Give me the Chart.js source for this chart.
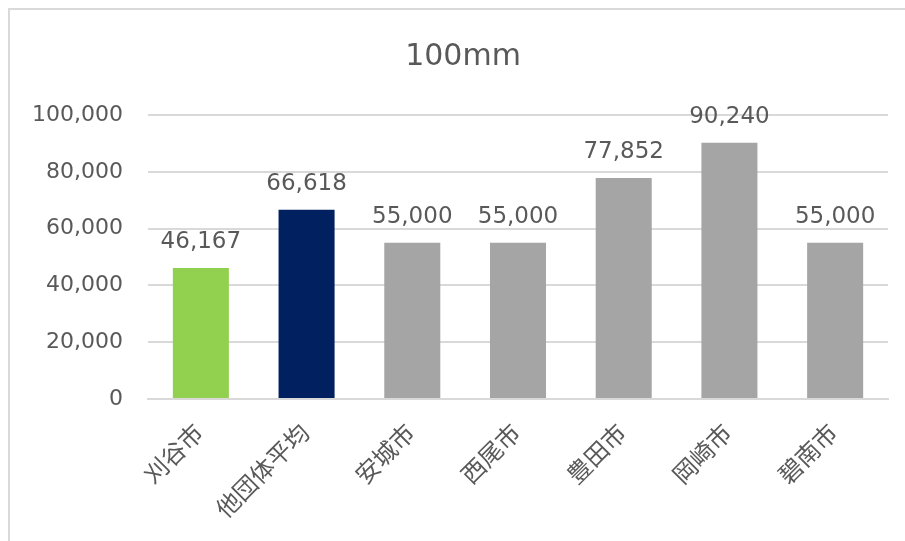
<!DOCTYPE html>
<html>
<head>
<meta charset="utf-8">
<script src="https://cdn.jsdelivr.net/npm/chart.js@4/dist/chart.umd.min.js"></script>
<style>
  html, body { margin: 0; padding: 0; background: #ffffff; }
  #wrap { position: relative; width: 905px; height: 541px; }
  canvas { display: block; }
</style>
</head>
<body>
<div id="wrap"><canvas id="c" width="905" height="541"></canvas></div>
<script>
// ---- data ----
const chartTitle = '100mm';
const categories = ['刈谷市', '他団体平均', '安城市', '西尾市', '豊田市', '岡崎市', '碧南市'];
const values = [46167, 66618, 55000, 55000, 77852, 90240, 55000];
const yTicks = [0, 20000, 40000, 60000, 80000, 100000];

// ---- styles ----
const barColors = ['#92D050', '#002060', '#A5A5A5', '#A5A5A5', '#A5A5A5', '#A5A5A5', '#A5A5A5'];
const textColor = '#595959';
const gridColor = '#D9D9D9';
const fontFamily = '"DejaVu Sans", "Noto Sans CJK JP", sans-serif';

const fmt = v => v.toLocaleString('en-US');

const framePlugin = {
  id: 'frame',
  beforeDraw(chart) {
    const ctx = chart.ctx;
    ctx.save();
    ctx.strokeStyle = '#D9D9D9';
    ctx.lineWidth = 2;
    ctx.beginPath();
    ctx.moveTo(9, chart.height);
    ctx.lineTo(9, 9);
    ctx.lineTo(chart.width, 9);
    ctx.stroke();
    ctx.restore();
  }
};

const titlePlugin = {
  id: 'centerTitle',
  afterDraw(chart) {
    const ctx = chart.ctx;
    ctx.save();
    ctx.fillStyle = textColor;
    ctx.font = '30px ' + fontFamily;
    ctx.textAlign = 'center';
    ctx.textBaseline = 'middle';
    ctx.fillText(chartTitle, 463, 57);
    ctx.restore();
  }
};

const labelPlugin = {
  id: 'barLabels',
  afterDatasetsDraw(chart) {
    const ctx = chart.ctx;
    const meta = chart.getDatasetMeta(0);
    ctx.save();
    ctx.fillStyle = textColor;
    ctx.font = '23px ' + fontFamily;
    ctx.textAlign = 'center';
    ctx.textBaseline = 'alphabetic';
    meta.data.forEach((bar, i) => {
      ctx.fillText(fmt(values[i]), bar.x, bar.y - 20);
    });
    ctx.restore();
  }
};

new Chart(document.getElementById('c'), {
  type: 'bar',
  data: {
    labels: categories,
    datasets: [{
      data: values,
      backgroundColor: barColors,
      borderWidth: 0,
      categoryPercentage: 1.0,
      barPercentage: 0.53
    }]
  },
  options: {
    responsive: false,
    animation: false,
    devicePixelRatio: 1,
    layout: { padding: { left: 12, right: 17, top: 115, bottom: 0 } },
    plugins: {
      legend: { display: false },
      tooltip: { enabled: false },
      title: { display: false }
    },
    scales: {
      x: {
        grid: { display: false, drawTicks: false },
        border: { display: true, color: gridColor, width: 2 },
        ticks: {
          color: textColor,
          font: { family: fontFamily, size: 24 },
          maxRotation: 45,
          minRotation: 45,
          padding: 21,
          autoSkip: false
        },
        afterFit(scale) { scale.height = 142; }
      },
      y: {
        min: 0,
        max: 100000,
        afterBuildTicks(scale) { scale.ticks = yTicks.map(v => ({ value: v })); },
        grid: { color: gridColor, lineWidth: 2, drawTicks: false },
        border: { display: false },
        ticks: {
          color: textColor,
          font: { family: fontFamily, size: 22 },
          padding: 25,
          callback: v => fmt(v)
        },
        afterFit(scale) { scale.width = 136; }
      }
    }
  },
  plugins: [framePlugin, labelPlugin, titlePlugin]
});
</script>
</body>
</html>
